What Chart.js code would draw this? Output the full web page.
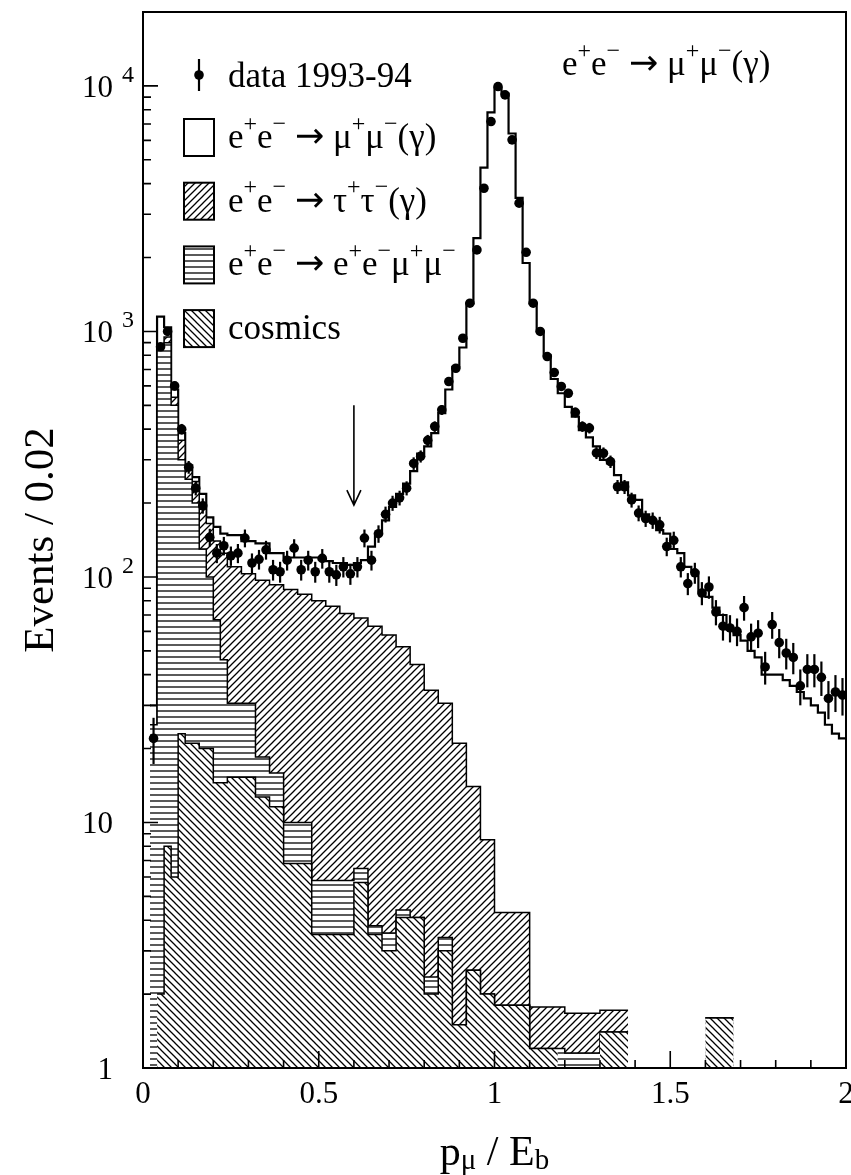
<!DOCTYPE html>
<html>
<head>
<meta charset="utf-8">
<script src="https://cdn.jsdelivr.net/npm/chart.js@4.4.1/dist/chart.umd.min.js"></script>
<style>
  html, body { margin: 0; padding: 0; background: #fff; }
  #wrap { width: 851px; height: 1175px; }
</style>
</head>
<body>
<div id="wrap"><canvas id="myChart" width="851" height="1175"></canvas></div>
<script>
// bins of 0.02 in p_mu / E_b, 0..2
const binWidth = 0.02;
const xMin = 0, xMax = 2;
const yMin = 1, yMax = 20000;

const dataCounts = [
	0, 22, 866, 1000, 600, 400, 280, 230, 195, 145,
	125, 134, 122, 125, 144, 114, 118, 129, 107, 105,
	117, 131, 107, 117, 105, 119, 105, 102, 110, 103,
	110, 144, 117, 150, 180, 200, 210, 230, 290, 310,
	360, 410, 479, 625, 708, 938, 1303, 2148, 3830, 7160,
	9940, 9190, 6030, 3330, 2100, 1303, 1000, 790, 680, 597,
	560, 468, 410, 404, 320, 319, 295, 233, 233, 206,
	182, 173, 170, 163, 133, 141, 110, 94, 104, 86,
	91, 72, 63, 62, 60, 75, 57, 59, 43, 64,
	54, 49, 47, 36, 42, 42, 39, 32, 34, 33
];

const mumuMC = [
	0, 5, 270, 90, 40, 25, 5, 10, 18, 10,
	20, 25, 38, 38, 37, 37, 40, 40, 32, 32,
	31, 31, 35, 35, 40, 38, 40, 38, 43, 41,
	46, 49, 70, 87, 112, 135, 166, 188, 226, 274,
	305.5, 350.5, 434.4, 549.4, 697, 839, 1286, 2386, 4641.5, 7791.5,
	9795.7, 9295.7, 6395.7, 3495.7, 1895.7, 1298.2, 998.2, 798.2, 638.2, 558.2,
	491.3, 448.3, 394.3, 368.3, 338.3, 298.3, 288.3, 258.3, 241.3, 213.3,
	206, 180, 170, 155, 150, 130, 125, 110, 105, 88,
	81.4, 73.4, 68.4, 59.4, 56.4, 55, 50, 47, 40, 40,
	40, 38, 36, 34, 32, 30, 28, 25, 23, 22
];

const tautauMC = [
	0, 0, 0, 50, 40, 60, 30, 45, 70, 65,
	73, 79, 79.4, 79.4, 72.4, 72.4, 78.5, 78.5, 77.1, 77.1,
	79, 79, 75, 75, 74.2, 74.2, 70.2, 70.2, 65.2, 65.2,
	61.5, 61.5, 59.2, 59.2, 54.5, 54.5, 47.6, 47.6, 39.9, 39.9,
	32.2, 32.2, 27.2, 27.2, 19.5, 19.5, 11.5, 11.5, 6.5, 6.5,
	2.5, 2.5, 2.5, 2.5, 2.5, 0.57, 0.57, 0.57, 0.57, 0.57,
	0.52, 0.52, 0.52, 0.52, 0.52, 0.32, 0.32, 0.32, 0.32, 0.32,
	0, 0, 0, 0, 0, 0, 0, 0, 0, 0,
	0, 0, 0, 0, 0, 0, 0, 0, 0, 0,
	0, 0, 0, 0, 0, 0, 0, 0, 0, 0
];

const eemumuMC = [
	0, 25, 878, 892, 494, 277, 229, 179, 110, 80,
	52.5, 31.5, 15.3, 15.3, 15.3, 15.3, 5.8, 5.8, 4.3, 4.3,
	3.2, 3.2, 3.2, 3.2, 2.3, 2.3, 2.3, 2.3, 2.3, 2.3,
	0.8, 0.8, 0.3, 0.3, 0.55, 0.55, 0.3, 0.3, 0, 0,
	0.35, 0.35, 0.4, 0.4, 0, 0, 0, 0, 0, 0,
	0, 0, 0, 0, 0, 0, 0, 0, 0, 0,
	1.15, 1.15, 1.15, 1.15, 1.15, 0, 0, 0, 0, 0,
	0, 0, 0, 0, 0, 0, 0, 0, 0, 0,
	0, 0, 0, 0, 0, 0, 0, 0, 0, 0,
	0, 0, 0, 0, 0, 0, 0, 0, 0, 0
];

const cosmicsMC = [
	0, 0, 2, 8, 6, 23, 21, 21, 20, 20,
	14.5, 14.5, 15.3, 15.3, 15.3, 15.3, 12.7, 12.7, 11.6, 11.6,
	6.8, 6.8, 6.8, 6.8, 3.5, 3.5, 3.5, 3.5, 3.5, 3.5,
	5.7, 5.7, 3.5, 3.5, 3.0, 3.0, 4.1, 4.1, 4.1, 4.1,
	2.0, 2.0, 3.0, 3.0, 1.5, 1.5, 2.5, 2.5, 2.0, 2.0,
	1.8, 1.8, 1.8, 1.8, 1.8, 1.2, 1.2, 1.2, 1.2, 1.2,
	0, 0, 0, 0, 0, 1.4, 1.4, 1.4, 1.4, 1.4,
	0, 0, 0, 0, 0, 0, 0, 0, 0, 0,
	1.6, 1.6, 1.6, 1.6, 1.6, 0, 0, 0, 0, 0,
	0, 0, 0, 0, 0, 0, 0, 0, 0, 0
];

const xTickLabels = ["0", "0.5", "1", "1.5", "2"];
const xMajorTicks = [0, 0.5, 1, 1.5, 2];
const yMajorTicks = [1, 10, 100, 1000, 10000];
const yExponents = ["", "", "2", "3", "4"];

// cut arrow at p/E_b = 0.6
const arrowAt = 0.6, arrowFrom = 500, arrowTo = 196;

const SERIF = '"Liberation Serif", "Times New Roman", serif';

const canvas = document.getElementById("myChart");
const ctx = canvas.getContext("2d");

function hatch(kind) {
	const s = kind === "h" ? 6 : 7;
	const c = document.createElement("canvas");
	c.width = s; c.height = s;
	const g = c.getContext("2d");
	g.fillStyle = "#fff";
	g.fillRect(0, 0, s, s);
	g.strokeStyle = "#000";
	g.lineWidth = 1.3;
	g.beginPath();
	if (kind === "h") {
		g.moveTo(0, s / 2); g.lineTo(s, s / 2);
	} else if (kind === "/") {
		g.moveTo(-1, s + 1); g.lineTo(s + 1, -1);
		g.moveTo(-1, 1); g.lineTo(1, -1);
		g.moveTo(s - 1, s + 1); g.lineTo(s + 1, s - 1);
	} else {
		g.moveTo(-1, -1); g.lineTo(s + 1, s + 1);
		g.moveTo(s - 1, -1); g.lineTo(s + 1, 1);
		g.moveTo(-1, s - 1); g.lineTo(1, s + 1);
	}
	g.stroke();
	return ctx.createPattern(c, "repeat");
}

const patTau = hatch("/");
const patEe = hatch("h");
const patCos = hatch("\\");

function cumulate(...arrays) {
	return arrays[0].map((_, i) => arrays.reduce((s, a) => s + a[i], 0));
}

// histogram as step line: one point per left bin edge plus the last edge
function stepPoints(values) {
	const pts = values.map((v, i) => ({ x: i * binWidth, y: v }));
	pts.push({ x: xMax, y: values[values.length - 1] });
	return pts;
}

const stackCos = cosmicsMC;
const stackEe = cumulate(cosmicsMC, eemumuMC);
const stackTau = cumulate(cosmicsMC, eemumuMC, tautauMC);
const stackAll = cumulate(cosmicsMC, eemumuMC, tautauMC, mumuMC);

const dataPoints = dataCounts.map((n, i) => ({ x: (i + 0.5) * binWidth, y: n > 0 ? n : null }));

function histSet(label, values, fillStyle, width, order) {
	return {
		label: label,
		data: stepPoints(values),
		stepped: true,
		fill: "origin",
		backgroundColor: fillStyle,
		borderColor: "#000",
		borderWidth: width,
		pointRadius: 0,
		order: order,
	};
}

// parts: [text, kind]; kind "^" superscript, "_" subscript, ">" arrow glyph
function rich(c, parts, x, y, size, align) {
	const fontOf = (k) => k === ">" ? size + 'px "DejaVu Sans"' :
		(k ? Math.round(size * 0.68) : size) + "px " + SERIF;
	let w = 0;
	for (const [t, k] of parts) { c.font = fontOf(k); w += c.measureText(t).width; }
	let cx = align === "center" ? x - w / 2 : align === "right" ? x - w : x;
	c.textAlign = "left";
	c.textBaseline = "alphabetic";
	for (const [t, k] of parts) {
		c.font = fontOf(k);
		const dy = k === "^" ? -size * 0.5 : k === "_" ? size * 0.1 : k === ">" ? -1 : 0;
		c.fillText(t, cx, y + dy);
		cx += c.measureText(t).width;
	}
}

const MINUS = "\u2212";
const eeIn = [["e"], ["+", "^"], ["e"], [MINUS, "^"], [" "], ["\u2192", ">"], [" "]];

const legendRows = [
	{ fill: "#fff", text: eeIn.concat([["\u03bc"], ["+", "^"], ["\u03bc"], [MINUS, "^"], ["(\u03b3)"]]) },
	{ fill: patTau, text: eeIn.concat([["\u03c4"], ["+", "^"], ["\u03c4"], [MINUS, "^"], ["(\u03b3)"]]) },
	{ fill: patEe, text: eeIn.concat([["e"], ["+", "^"], ["e"], [MINUS, "^"], ["\u03bc"], ["+", "^"], ["\u03bc"], [MINUS, "^"]]) },
	{ fill: patCos, text: [["cosmics"]] },
];

const paperPlugin = {
	id: "paper",
	afterDatasetsDraw(chart) {
		const { ctx: c, chartArea: a, scales: { x, y } } = chart;
		c.save();
		c.beginPath();
		c.rect(a.left, a.top, a.right - a.left, a.bottom - a.top);
		c.clip();
		c.strokeStyle = "#000";
		c.lineWidth = 2.2;
		dataCounts.forEach((n, i) => {
			if (!n) return;
			const px = x.getPixelForValue((i + 0.5) * binWidth);
			const e = Math.sqrt(n);
			c.beginPath();
			c.moveTo(px, y.getPixelForValue(n + e));
			c.lineTo(px, y.getPixelForValue(Math.max(n - e, yMin)));
			c.stroke();
		});
		// cut arrow
		const ax = x.getPixelForValue(arrowAt);
		const ay0 = y.getPixelForValue(arrowFrom);
		const ay1 = y.getPixelForValue(arrowTo);
		c.lineWidth = 1.6;
		c.beginPath();
		c.moveTo(ax, ay0); c.lineTo(ax, ay1);
		c.moveTo(ax - 7, ay1 - 15); c.lineTo(ax, ay1); c.lineTo(ax + 7, ay1 - 15);
		c.stroke();
		c.restore();
	},
	afterDraw(chart) {
		const { ctx: c, chartArea: a, scales: { x, y } } = chart;
		c.save();
		c.strokeStyle = "#000";
		c.fillStyle = "#000";
		// frame
		c.lineWidth = 2;
		c.strokeRect(a.left, a.top, a.right - a.left, a.bottom - a.top);
		// inward ticks
		c.lineWidth = 1.6;
		c.beginPath();
		for (let d = yMin; d < yMax; d *= 10) {
			for (let m = 1; m <= 9; m++) {
				const v = d * m;
				if (v > yMax) break;
				const py = y.getPixelForValue(v);
				c.moveTo(a.left, py);
				c.lineTo(a.left + (m === 1 ? 15 : 8), py);
			}
		}
		for (let k = 0; k <= 20; k++) {
			const px = x.getPixelForValue(k / 10);
			c.moveTo(px, a.bottom);
			c.lineTo(px, a.bottom - (k % 5 === 0 ? 17 : 8));
		}
		c.stroke();

		// y tick labels
		yMajorTicks.forEach((v, i) => {
			const py = y.getPixelForValue(v);
			c.font = "31px " + SERIF;
			c.textAlign = "right";
			c.textBaseline = "alphabetic";
			c.fillText(v === 1 ? "1" : "10", 113, py + 11);
			if (yExponents[i]) {
				c.font = "24px " + SERIF;
				c.textAlign = "left";
				c.fillText(yExponents[i], 122, py - 4);
			}
		});
		// x tick labels
		c.font = "31px " + SERIF;
		c.textAlign = "center";
		xMajorTicks.forEach((v, i) => {
			c.fillText(xTickLabels[i], x.getPixelForValue(v), 1103);
		});

		// axis titles
		rich(c, [["p"], ["\u03bc", "_"], [" / "], ["E"], ["b", "_"]], (a.left + a.right) / 2, 1165, 42, "center");
		c.save();
		c.translate(53, 540);
		c.rotate(-Math.PI / 2);
		c.font = "43px " + SERIF;
		c.textAlign = "center";
		c.textBaseline = "alphabetic";
		c.fillText("Events / 0.02", 0, 0);
		c.restore();

		// legend
		c.lineWidth = 2.2;
		c.beginPath();
		c.moveTo(199, 59); c.lineTo(199, 91);
		c.stroke();
		c.beginPath();
		c.arc(199, 75, 4.8, 0, Math.PI * 2);
		c.fill();
		rich(c, [["data 1993-94"]], 228, 87, 35, "left");
		legendRows.forEach((row, i) => {
			const top = 119 + i * 63.7;
			c.fillStyle = row.fill;
			c.fillRect(184, top, 30, 37);
			c.strokeStyle = "#000";
			c.lineWidth = 2;
			c.strokeRect(184, top, 30, 37);
			c.fillStyle = "#000";
			rich(c, row.text, 228, top + 29, 35, "left");
		});

		// process label
		rich(c, eeIn.concat([["\u03bc"], ["+", "^"], ["\u03bc"], [MINUS, "^"], ["(\u03b3)"]]), 562, 75, 35, "left");
		c.restore();
	},
};

new Chart(canvas, {
	type: "line",
	data: {
		datasets: [
			{
				label: "data 1993-94",
				data: dataPoints,
				showLine: false,
				pointRadius: 4.8,
				pointBackgroundColor: "#000",
				pointBorderWidth: 0,
				order: 0,
			},
			histSet("cosmics", stackCos, patCos, 1.5, 1),
			histSet("ee->eemumu", stackEe, patEe, 1.5, 2),
			histSet("ee->tautau", stackTau, patTau, 1.5, 3),
			histSet("ee->mumu", stackAll, "#fff", 2.2, 4),
		],
	},
	options: {
		responsive: false,
		animation: false,
		events: [],
		layout: { padding: { left: 143, right: 5, top: 12, bottom: 107 } },
		scales: {
			x: { type: "linear", min: xMin, max: xMax, display: false },
			y: { type: "logarithmic", min: yMin, max: yMax, display: false },
		},
		plugins: {
			legend: { display: false },
			tooltip: { enabled: false },
		},
	},
	plugins: [paperPlugin],
});
</script>
</body>
</html>
